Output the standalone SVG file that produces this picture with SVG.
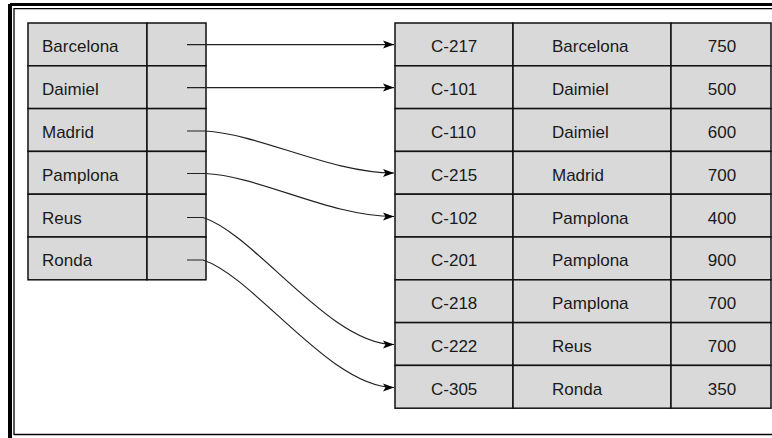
<svg xmlns="http://www.w3.org/2000/svg" width="772" height="438" viewBox="0 0 772 438">
  <style>
    .cell { fill: #d9d9d9; stroke: #111; stroke-width: 1.5; }
    .txt { font-family: "Liberation Sans", Arial, sans-serif; font-size: 17px; fill: #1a1a1a; }
    .num { text-anchor: middle; }
    .conn { fill: none; stroke: #222; stroke-width: 1.2; }
    .frame { fill: none; stroke: #000; }
  </style>
  <defs>
    <marker id="arrow" markerUnits="userSpaceOnUse" markerWidth="13" markerHeight="11" refX="11" refY="4.5" orient="auto">
      <path d="M0,0.5 L11,4.5 L0,8.5 L2.5,4.5 Z" fill="#000"/>
    </marker>
  </defs>

  <rect width="772" height="438" fill="#fff"/>

  <!-- double frame: heavy outer rule, thin inner rule -->
  <g id="frame">
    <line class="frame" x1="10" y1="4.5" x2="772" y2="4.5" stroke-width="3.2"/>
    <line class="frame" x1="10" y1="4" x2="10" y2="438" stroke-width="4"/>
    <line class="frame" x1="14" y1="8.7" x2="772" y2="8.7" stroke-width="1.3"/>
    <line class="frame" x1="14" y1="8" x2="14" y2="435" stroke-width="1.3"/>
    <line class="frame" x1="14" y1="434.5" x2="772" y2="434.5" stroke-width="1.5"/>
  </g>

  <!-- index: city name + pointer cell -->
  <g id="index-barcelona">
    <rect class="cell" x="28" y="23" width="119" height="42.8"/>
    <rect class="cell" x="147" y="23" width="59" height="42.8"/>
    <text class="txt" x="42" y="52.3">Barcelona</text>
  </g>
  <g id="index-daimiel">
    <rect class="cell" x="28" y="65.8" width="119" height="42.8"/>
    <rect class="cell" x="147" y="65.8" width="59" height="42.8"/>
    <text class="txt" x="42" y="95.1">Daimiel</text>
  </g>
  <g id="index-madrid">
    <rect class="cell" x="28" y="108.6" width="119" height="42.8"/>
    <rect class="cell" x="147" y="108.6" width="59" height="42.8"/>
    <text class="txt" x="42" y="137.9">Madrid</text>
  </g>
  <g id="index-pamplona">
    <rect class="cell" x="28" y="151.4" width="119" height="42.8"/>
    <rect class="cell" x="147" y="151.4" width="59" height="42.8"/>
    <text class="txt" x="42" y="180.7">Pamplona</text>
  </g>
  <g id="index-reus">
    <rect class="cell" x="28" y="194.2" width="119" height="42.8"/>
    <rect class="cell" x="147" y="194.2" width="59" height="42.8"/>
    <text class="txt" x="42" y="223.5">Reus</text>
  </g>
  <g id="index-ronda">
    <rect class="cell" x="28" y="237" width="119" height="42.8"/>
    <rect class="cell" x="147" y="237" width="59" height="42.8"/>
    <text class="txt" x="42" y="266.3">Ronda</text>
  </g>

  <!-- account records: number, branch, balance -->
  <g id="rec-c217">
    <rect class="cell" x="395" y="23" width="118" height="42.8"/>
    <rect class="cell" x="513" y="23" width="158" height="42.8"/>
    <rect class="cell" x="671" y="23" width="100" height="42.8"/>
    <text class="txt" x="431" y="52.3">C-217</text>
    <text class="txt" x="552" y="52.3">Barcelona</text>
    <text class="txt num" x="722" y="52.3">750</text>
  </g>
  <g id="rec-c101">
    <rect class="cell" x="395" y="65.8" width="118" height="42.8"/>
    <rect class="cell" x="513" y="65.8" width="158" height="42.8"/>
    <rect class="cell" x="671" y="65.8" width="100" height="42.8"/>
    <text class="txt" x="431" y="95.1">C-101</text>
    <text class="txt" x="552" y="95.1">Daimiel</text>
    <text class="txt num" x="722" y="95.1">500</text>
  </g>
  <g id="rec-c110">
    <rect class="cell" x="395" y="108.6" width="118" height="42.8"/>
    <rect class="cell" x="513" y="108.6" width="158" height="42.8"/>
    <rect class="cell" x="671" y="108.6" width="100" height="42.8"/>
    <text class="txt" x="431" y="137.9">C-110</text>
    <text class="txt" x="552" y="137.9">Daimiel</text>
    <text class="txt num" x="722" y="137.9">600</text>
  </g>
  <g id="rec-c215">
    <rect class="cell" x="395" y="151.4" width="118" height="42.8"/>
    <rect class="cell" x="513" y="151.4" width="158" height="42.8"/>
    <rect class="cell" x="671" y="151.4" width="100" height="42.8"/>
    <text class="txt" x="431" y="180.7">C-215</text>
    <text class="txt" x="552" y="180.7">Madrid</text>
    <text class="txt num" x="722" y="180.7">700</text>
  </g>
  <g id="rec-c102">
    <rect class="cell" x="395" y="194.2" width="118" height="42.8"/>
    <rect class="cell" x="513" y="194.2" width="158" height="42.8"/>
    <rect class="cell" x="671" y="194.2" width="100" height="42.8"/>
    <text class="txt" x="431" y="223.5">C-102</text>
    <text class="txt" x="552" y="223.5">Pamplona</text>
    <text class="txt num" x="722" y="223.5">400</text>
  </g>
  <g id="rec-c201">
    <rect class="cell" x="395" y="237" width="118" height="42.8"/>
    <rect class="cell" x="513" y="237" width="158" height="42.8"/>
    <rect class="cell" x="671" y="237" width="100" height="42.8"/>
    <text class="txt" x="431" y="266.3">C-201</text>
    <text class="txt" x="552" y="266.3">Pamplona</text>
    <text class="txt num" x="722" y="266.3">900</text>
  </g>
  <g id="rec-c218">
    <rect class="cell" x="395" y="279.8" width="118" height="42.8"/>
    <rect class="cell" x="513" y="279.8" width="158" height="42.8"/>
    <rect class="cell" x="671" y="279.8" width="100" height="42.8"/>
    <text class="txt" x="431" y="309.1">C-218</text>
    <text class="txt" x="552" y="309.1">Pamplona</text>
    <text class="txt num" x="722" y="309.1">700</text>
  </g>
  <g id="rec-c222">
    <rect class="cell" x="395" y="322.6" width="118" height="42.8"/>
    <rect class="cell" x="513" y="322.6" width="158" height="42.8"/>
    <rect class="cell" x="671" y="322.6" width="100" height="42.8"/>
    <text class="txt" x="431" y="351.9">C-222</text>
    <text class="txt" x="552" y="351.9">Reus</text>
    <text class="txt num" x="722" y="351.9">700</text>
  </g>
  <g id="rec-c305">
    <rect class="cell" x="395" y="365.4" width="118" height="42.8"/>
    <rect class="cell" x="513" y="365.4" width="158" height="42.8"/>
    <rect class="cell" x="671" y="365.4" width="100" height="42.8"/>
    <text class="txt" x="431" y="394.7">C-305</text>
    <text class="txt" x="552" y="394.7">Ronda</text>
    <text class="txt num" x="722" y="394.7">350</text>
  </g>

  <!-- pointers from index entries to the first matching record -->
  <g id="connectors">
    <path class="conn" marker-end="url(#arrow)" d="M187,44.6 L394,44.6"/>
    <path class="conn" marker-end="url(#arrow)" d="M187,87.6 L394,87.6"/>
    <path class="conn" marker-end="url(#arrow)" d="M187,131 L205,131 C260,134 330,173 394,173"/>
    <path class="conn" marker-end="url(#arrow)" d="M187,173.5 L205,173.5 C260,176 330,216.5 394,216.5"/>
    <path class="conn" marker-end="url(#arrow)" d="M187,217.5 L203,217.5 C255,234 330,344.5 394,344.5"/>
    <path class="conn" marker-end="url(#arrow)" d="M187,260 L203,260 C255,277 330,387.5 394,387.5"/>
  </g>
</svg>
